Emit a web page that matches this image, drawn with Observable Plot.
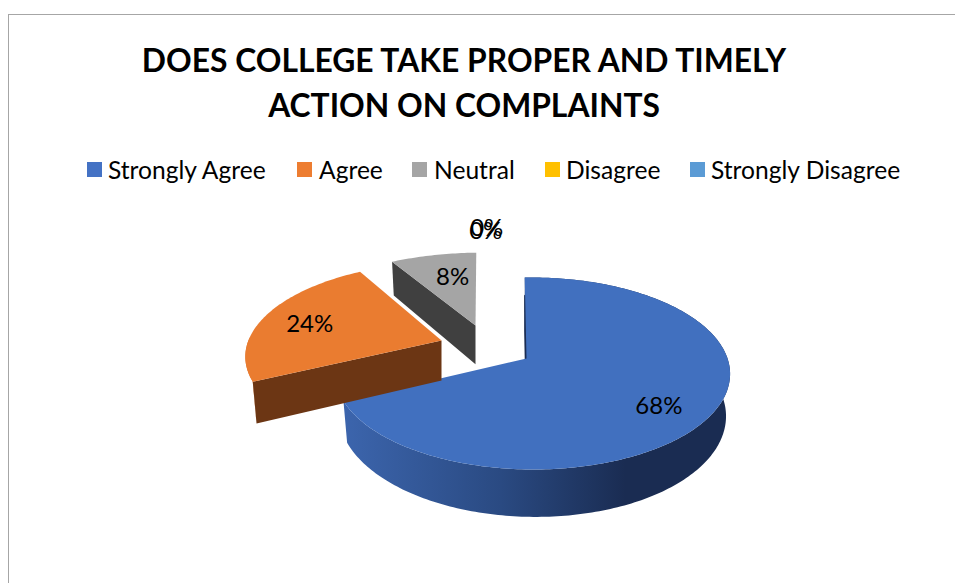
<!DOCTYPE html>
<html><head><meta charset="utf-8">
<script src="https://cdn.jsdelivr.net/npm/d3@7"></script>
<script src="https://cdn.jsdelivr.net/npm/@observablehq/plot@0.6"></script>
<style>
html,body{margin:0;padding:0;background:#fff;}
#page{position:relative;width:955px;height:583px;overflow:hidden;font-family:Lato,sans-serif;color:#000;}
#frame{position:absolute;left:8px;top:14px;right:-2px;bottom:-2px;border:1px solid #a6a6a6;}
#title{position:absolute;left:64px;width:800px;top:38px;text-align:center;font-size:31.8px;font-weight:700;line-height:45px;}
.lg{position:absolute;top:155px;font-size:24.6px;line-height:30px;white-space:nowrap;}
.sw{position:absolute;top:162px;width:15px;height:15px;}
#chart{position:absolute;left:0;top:190px;}
svg{display:block;background:transparent;}
</style></head><body>
<div id="page"><div id="frame"></div>
<div id="title">DOES COLLEGE TAKE PROPER AND TIMELY<br>ACTION ON COMPLAINTS</div>
<div id="chart"></div></div>
<script>
const categories = ["Strongly Agree","Agree","Neutral","Disagree","Strongly Disagree"];
const values = [68,24,8,0,0];
const colors = ["#4472C4","#ED7D31","#A5A5A5","#FFC000","#5B9BD5"];
const legendSwatchX = [87,297,412,545,690];
const legendTextX = [108,319,434,566,711];

const page = document.getElementById("page");
categories.forEach((c,i)=>{
  const s=document.createElement("div");s.className="sw";s.style.left=legendSwatchX[i]+"px";s.style.background=colors[i];page.appendChild(s);
  const t=document.createElement("div");t.className="lg";t.style.left=legendTextX[i]+"px";t.textContent=c;page.appendChild(t);
});

// Tilted, exploded pie: every slice's placement on the page
const apexes = [[526,358],[441,340],[475,325],[476,325],[476,325]];
const xScale = [1,1.02,1.03,1,1];
const yScale = [1,0.97,0.9,0.9,0.9];
const shear = [0,4.5,3,0,0];
const labelFrac = [0.72,0.75,0.75,1,1];
const labelNudge = [[3,9],[2,3],[10,6],[11,-21.5],[12,-24.5]];
const R = 195, Ry = 93.6, pY = 0.156, pX = 0.03, depth = 40, shrink = 0.98, rot = -0.6;
const total = d3.sum(values);

function proj(t, f, i){
  const a=(t+rot)*Math.PI/180, X=Math.sin(a)*f, Y=Math.cos(a)*f;
  const s=1/(1+pY*Y-pX*X);
  return {x:apexes[i][0]+(R*X*xScale[i]+shear[i]*Y)*s, y:apexes[i][1]-Ry*Y*s*yScale[i], s};
}
function low(p,i){
  return {x:apexes[i][0]+(p.x-apexes[i][0])*shrink, y:p.y+depth*p.s*(yScale[i]<0.95?0.97:1)};
}
function rim(t0,t1,i){
  const n=Math.max(2,Math.ceil(Math.abs(t1-t0))), out=[];
  for(let k=0;k<=n;k++) out.push(proj(t0+(t1-t0)*k/n,1,i));
  return out;
}
let cum=0;
const slices = values.map((v,i)=>{const s={i,v,t0:cum,t1:cum+v/total*360};cum=s.t1;return s;});

const apex=i=>proj(0,0,i);
const poly=(pts,fill,extra={})=>Plot.line(pts,{x:"x",y:"y",fill,stroke:extra.stroke||"none",strokeWidth:extra.w||0,curve:"linear-closed"});

const [b,o,g]=slices;
const blueRim=rim(b.t0,b.t1,0), orangeRim=rim(o.t0,o.t1,1), grayRim=rim(g.t0,g.t1,2);
const wall=(r,i)=>[...r,...r.map(p=>low(p,i)).reverse()];

const gradient=()=>{
  const ns="http://www.w3.org/2000/svg", d=document.createElementNS(ns,"defs");
  d.innerHTML=`<linearGradient id="blueWall" gradientUnits="userSpaceOnUse" x1="343" x2="735" y1="0" y2="0">
  <stop offset="0" stop-color="#3c65ad"/><stop offset="0.4" stop-color="#2a4a82"/><stop offset="0.72" stop-color="#1a2c52"/><stop offset="1" stop-color="#1a2c52"/></linearGradient>`;
  return d;
};

const labels = slices.map((s,i)=>{
  const m=proj((s.t0+s.t1)/2,labelFrac[i],i);
  return {x:m.x+labelNudge[i][0],y:m.y+labelNudge[i][1],text:s.v+"%"};
});

const top0=190;
const plot=Plot.plot({
  width:955,height:393,margin:0,
  x:{domain:[0,955],axis:null},
  y:{domain:[583,top0],axis:null},
  marks:[
    gradient,
    // blue pie
    poly(wall(blueRim,0),"url(#blueWall)"),
    poly([apex(0),proj(b.t0,0.75,0),low(proj(b.t0,0.75,0),0),low(apex(0),0)],"#1a2c52",{stroke:"#1a2c52",w:2}),
    poly([apex(0),...blueRim],"#4170BF"),
    // gray slice
    poly([apex(2),proj(g.t0,1,2),low(proj(g.t0,1,2),2),low(apex(2),2)],"#404040"),
    poly([apex(2),...grayRim],colors[2]),
    // orange slice
    poly([...rim(o.t0,o.t0+28,1),low(proj(o.t0,1,1),1)],"#d9752f"),
    poly([apex(1),proj(o.t0,1,1),low(proj(o.t0,1,1),1),low(apex(1),1)],"#6c3614"),
    poly([apex(1),...orangeRim],"#EA7C30"),
    Plot.text(labels,{x:"x",y:"y",text:"text",fontSize:24,fill:"#000",fontFamily:"Lato, sans-serif"})
  ]
});
document.getElementById("chart").appendChild(plot);
</script></body></html>
